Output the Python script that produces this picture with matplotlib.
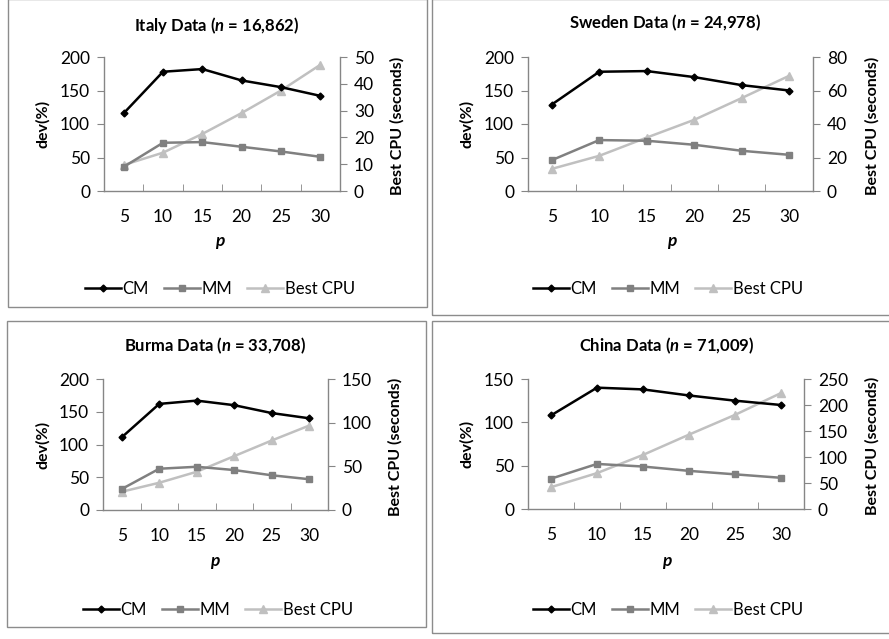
import matplotlib
matplotlib.use("Agg")
import matplotlib.pyplot as plt
from matplotlib.patches import Rectangle
from matplotlib.lines import Line2D

plt.rcParams['font.family'] = ['Lato', 'DejaVu Sans']
plt.rcParams['mathtext.fontset'] = 'custom'
plt.rcParams['mathtext.it'] = 'Lato:bold:italic'
plt.rcParams['mathtext.rm'] = 'Lato:bold'

W, H = 889, 639

p_values = [5, 10, 15, 20, 25, 30]

titles = ["Italy Data", "Sweden Data", "Burma Data", "China Data"]
n_sizes = ["16,862", "24,978", "33,708", "71,009"]

cm_italy = [116, 178, 182, 165, 155, 142]
mm_italy = [36, 72, 73, 66, 59, 51]
cpu_italy = [9.7, 14.3, 21.3, 29.1, 37.5, 47.1]

cm_sweden = [129, 178, 179, 170, 158, 150]
mm_sweden = [46, 76, 75, 69, 60, 54]
cpu_sweden = [13.2, 21.0, 31.9, 42.5, 55.5, 68.8]

cm_burma = [111, 162, 167, 160, 148, 140]
mm_burma = [32, 63, 66, 61, 53, 47]
cpu_burma = [20.9, 31.2, 43.8, 61.7, 79.6, 96.7]

cm_china = [108, 140, 138, 131, 125, 120]
mm_china = [35, 52, 49, 44, 40, 36]
cpu_china = [42, 69, 104, 143, 181, 223]

left_max = [200, 200, 200, 150]
left_step = [50, 50, 50, 50]
right_max = [50, 80, 150, 250]
right_step = [10, 20, 50, 50]

series = [
    (cm_italy, mm_italy, cpu_italy),
    (cm_sweden, mm_sweden, cpu_sweden),
    (cm_burma, mm_burma, cpu_burma),
    (cm_china, mm_china, cpu_china),
]

# panel layout in pixels: border box, plot box, label positions
borders = [(8, -1, 427, 307), (432, -1, 891, 315), (7, 321, 426, 627), (432, 321, 891, 633)]
plot_boxes = [(104, 57, 340, 191), (528, 57, 813, 191), (103, 379, 328, 510), (528, 379, 804, 509)]
title_pos = [(217, 25), (665, 23), (215, 346), (667, 346)]
xlabel_pos = [(220, 243), (672, 243), (215, 563), (667, 563)]
ylabel_x = [43, 467, 43, 467]
y2label_x = [397, 872, 395, 872]
legend_pos = [(220, 289), (668, 289), (218, 610), (668, 610)]

AX_COLOR = '#868686'
CM_COLOR = '#000000'
MM_COLOR = '#808080'
CPU_COLOR = '#C0C0C0'


def fx(x):
    return x / W


def fy(y):
    return 1 - y / H


fig = plt.figure(figsize=(W / 100, H / 100), dpi=100)

for i in range(4):
    bx0, by0, bx1, by1 = borders[i]
    fig.patches.append(Rectangle((fx(bx0), fy(by1)), fx(bx1 - bx0), (by1 - by0) / H,
                                 transform=fig.transFigure, fill=False,
                                 edgecolor='#8c8c8c', lw=1.0))

    x0, y0, x1, y1 = plot_boxes[i]
    ax = fig.add_axes([fx(x0), fy(y1), fx(x1 - x0), (y1 - y0) / H])
    ax2 = ax.twinx()
    cm, mm, cpu = series[i]
    xs = list(range(len(p_values)))

    ax.plot(xs, cm, color=CM_COLOR, lw=1.8, marker='D', ms=3.5, zorder=5)
    ax.plot(xs, mm, color=MM_COLOR, lw=1.8, marker='s', ms=5, zorder=4)
    ax2.plot(xs, cpu, color=CPU_COLOR, lw=1.8, marker='^', ms=6, zorder=3)
    ax.set_zorder(ax2.get_zorder() + 1)
    ax.patch.set_visible(False)

    for a in (ax, ax2):
        a.set_xlim(-0.5, len(p_values) - 0.5)
        for s in a.spines.values():
            s.set_visible(False)
        a.set_xticks([])

    ax.spines['left'].set_visible(True)
    ax.spines['bottom'].set_visible(True)
    ax2.spines['right'].set_visible(True)
    for s in (ax.spines['left'], ax.spines['bottom'], ax2.spines['right']):
        s.set_color(AX_COLOR)
        s.set_linewidth(1.0)

    ax.set_ylim(0, left_max[i])
    ax.set_yticks(range(0, left_max[i] + 1, left_step[i]))
    ax2.set_ylim(0, right_max[i])
    ax2.set_yticks(range(0, right_max[i] + 1, right_step[i]))

    ax.set_xticks(xs)
    ax.set_xticklabels([str(v) for v in p_values])
    ax.set_xticks([k - 0.5 for k in range(len(p_values) + 1)], minor=True)
    ax.tick_params(axis='x', which='major', length=0, pad=13, labelsize=12.5)
    ax.tick_params(axis='x', which='minor', length=5, color=AX_COLOR, direction='in')
    ax.tick_params(axis='y', length=5, color=AX_COLOR, labelsize=12.5, pad=5)
    ax2.tick_params(axis='y', length=5, color=AX_COLOR, labelsize=12.5, pad=5)

    tx, ty = title_pos[i]
    fig.text(fx(tx), fy(ty), titles[i] + " ($\\it{n}$ = " + n_sizes[i] + ")",
             ha='center', va='center', fontsize=12, fontweight='bold')
    lx, ly = xlabel_pos[i]
    fig.text(fx(lx), fy(ly), "$\\it{p}$", ha='center', va='center', fontsize=12.5)
    fig.text(fx(ylabel_x[i]), fy((y0 + y1) / 2), "dev(%)", rotation=90,
             ha='center', va='center', fontsize=11.5, fontweight='bold')
    fig.text(fx(y2label_x[i]), fy((y0 + y1) / 2 + 2), "Best CPU (seconds)", rotation=90,
             ha='center', va='center', fontsize=11.5, fontweight='bold')

    handles = [
        Line2D([], [], color=CM_COLOR, lw=1.8, marker='D', ms=3.5),
        Line2D([], [], color=MM_COLOR, lw=1.8, marker='s', ms=5),
        Line2D([], [], color=CPU_COLOR, lw=1.8, marker='^', ms=6),
    ]
    gx, gy = legend_pos[i]
    fig.legend(handles, ["CM", "MM", "Best CPU"], loc='center',
               bbox_to_anchor=(fx(gx), fy(gy)), ncol=3, frameon=False,
               fontsize=12, handlelength=2.15, handletextpad=0.1,
               columnspacing=0.9)

fig.savefig("out.png", dpi=100)
